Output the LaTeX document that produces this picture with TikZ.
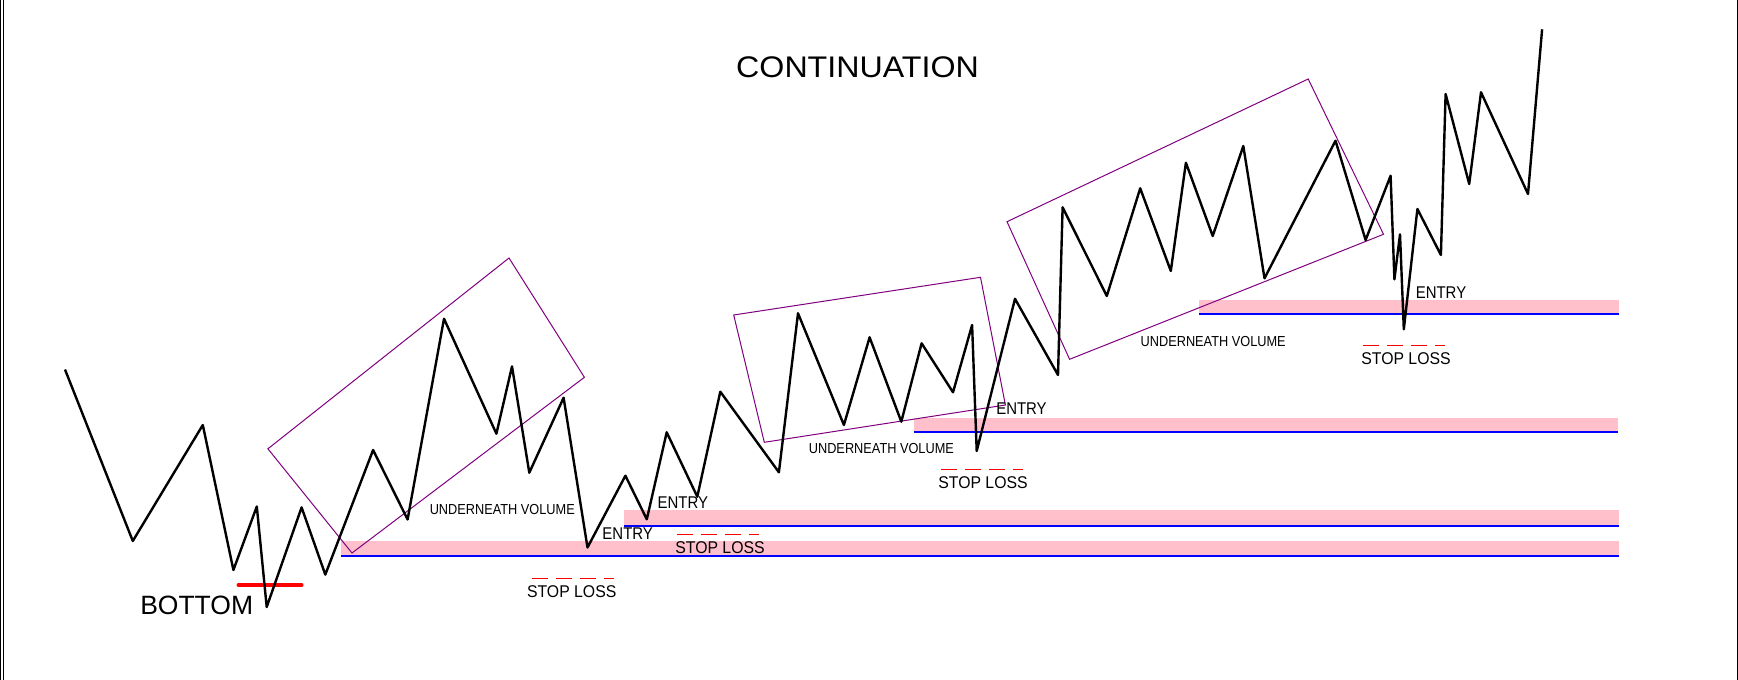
\documentclass[tikz,border=0pt]{standalone}
\usepackage{fontspec}
\setmainfont{Liberation Sans}
\newfontfamily\labelfont[FakeStretch=0.88]{Liberation Sans}
\newfontfamily\stopfont[FakeStretch=0.93]{Liberation Sans}
\newfontfamily\titlefont[FakeStretch=1.08]{Liberation Sans}
\usepackage{tikz}
\definecolor{chanpurple}{RGB}{128,0,128}
\definecolor{zonepink}{RGB}{255,192,203}
\definecolor{levelblue}{RGB}{0,0,255}
\definecolor{slred}{RGB}{255,0,0}

\begin{document}
\begin{tikzpicture}[
    x=1pt, y=-1pt,
    every node/.style={inner sep=0pt, text=black},
    price/.style={line width=2.4pt, line join=round, color=black},
    channel/.style={draw=chanpurple, line width=1pt},
    zone/.style={fill=zonepink},
    level/.style={draw=levelblue, line width=2pt},
    stoploss/.style={draw=slred, line width=1pt, dash pattern=on 16pt off 8pt},
    lab/.style={font=\labelfont\fontsize{17}{17}\selectfont},
    sllab/.style={font=\stopfont\fontsize{17}{17}\selectfont},
    uvlab/.style={font=\labelfont\fontsize{14.5}{14.5}\selectfont}
]
\fill[white] (0,0) rectangle (1738,680);
\useasboundingbox (0,0) rectangle (1738,680);
% window edges
\draw[line width=1.4pt] (0.7,0) -- (0.7,680);
\draw[line width=1pt] (3.6,0) -- (3.6,680);
\draw[line width=1.4pt] (1737.3,0) -- (1737.3,680);

% Entry zones
\fill[zone] (341,541) rectangle (1619,554.5);
\draw[level] (341,555.6) -- (1619,555.6);
\fill[zone] (624,510) rectangle (1619,524.5);
\draw[level] (624,525.6) -- (1619,525.6);
\fill[zone] (914,418) rectangle (1618,430.8);
\draw[level] (914,431.8) -- (1618,431.8);
\fill[zone] (1199,300) rectangle (1619,313.4);
\draw[level] (1199,314.4) -- (1619,314.4);

% Channels
\draw[channel] (267.9,448.8) -- (509,258) -- (584.4,377.3) -- (352,553) -- cycle;
\draw[channel] (733.7,315) -- (980.5,277.3) -- (1005.4,405) -- (764.3,442.3) -- cycle;
\draw[channel] (1007,221.7) -- (1308.2,79) -- (1383.5,234.3) -- (1069.6,359.3) -- cycle;

% Bottom mark
\draw[slred, line width=4pt, line cap=round] (238.5,585) -- (301.5,585);

% Price swings
\draw[price] (65,369.5) -- (132.8,541) -- (202.8,425) -- (233.4,570) -- (256.8,506.5)
  -- (266.7,607) -- (301.6,507.4) -- (325.3,574.6) -- (373.1,450) -- (407.6,519.5)
  -- (444,318.7) -- (496.4,433.7) -- (512,366.4) -- (529.3,472.7) -- (563.6,397.7)
  -- (587.5,547.5) -- (625.4,475.7) -- (646.8,519.3) -- (666.7,432.3) -- (697.3,496.7)
  -- (720.3,391.7) -- (778.9,472.3) -- (798,313.3) -- (843.9,425) -- (869.6,337.3)
  -- (901.3,421.7) -- (921.6,343.3) -- (953,392.3) -- (972.1,325) -- (976.7,451)
  -- (1015,298.8) -- (1058,375) -- (1062.6,207.3) -- (1106.8,296) -- (1140.2,188.3)
  -- (1170.8,271) -- (1185.9,162.7) -- (1212.7,236) -- (1243.3,146) -- (1264.5,278.3)
  -- (1335.5,140.7) -- (1365.6,240) -- (1390.6,175.7) -- (1394.4,279.3) -- (1400,234.3)
  -- (1403.8,329.3) -- (1417.4,209) -- (1440.9,255) -- (1445.6,94) -- (1469.2,184)
  -- (1481,92.3) -- (1528,194) -- (1542.1,29.3);

% Stop loss marks
\draw[stoploss] (532,578.3) -- (614,578.3);
\draw[stoploss] (677,534.5) -- (759,534.5);
\draw[stoploss] (941,469.3) -- (1023,469.3);
\draw[stoploss] (1363,345.3) -- (1445,345.3);

% Labels
\node[font=\titlefont\fontsize{29.8}{29.8}\selectfont] (title) at (857.5,67.3) {CONTINUATION};
\node[font=\fontsize{26.5}{26.5}\selectfont] (bottom) at (196.7,605.8) {BOTTOM};
\node[uvlab] (uv1) at (502.3,509.2) {UNDERNEATH VOLUME};
\node[uvlab] (uv2) at (881.4,448.3) {UNDERNEATH VOLUME};
\node[uvlab] (uv3) at (1213.2,341.3) {UNDERNEATH VOLUME};
\node[lab] (entry1) at (627.7,533.2) {ENTRY};
\node[lab] (entry2) at (682.8,503) {ENTRY};
\node[lab] (entry3) at (1021.5,409) {ENTRY};
\node[lab] (entry4) at (1441,292.2) {ENTRY};
\node[sllab] (sl1) at (571.7,591.7) {STOP LOSS};
\node[sllab] (sl2) at (720,548) {STOP LOSS};
\node[sllab] (sl3) at (983,483) {STOP LOSS};
\node[sllab] (sl4) at (1406,358.9) {STOP LOSS};
\end{tikzpicture}
\end{document}
